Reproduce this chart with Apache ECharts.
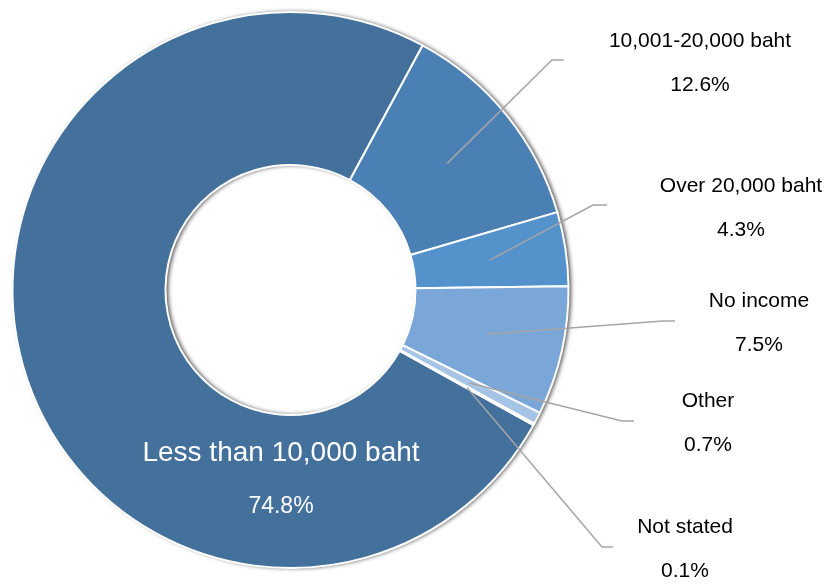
<!DOCTYPE html>
<html>
<head>
<meta charset="utf-8">
<script src="https://cdn.jsdelivr.net/npm/echarts@6/dist/echarts.min.js"></script>
<style>
  html, body { margin: 0; padding: 0; background: #fff; }
  #chart { width: 834px; height: 584px; }
</style>
</head>
<body>
<div id="chart"></div>
<script>
// Monthly income groups and their shares (%)
const categories = ['Less than 10,000 baht', '10,001-20,000 baht', 'Over 20,000 baht', 'No income', 'Other', 'Not stated'];
const shares = [74.8, 12.6, 4.3, 7.5, 0.7, 0.1];
const sliceColors = ['#43719C', '#4A80B4', '#5492CB', '#7BA7D8', '#A6C4E6', '#C3D6EE'];

// Ring geometry (px) and the angle where the first slice begins
const CX = 290.5, CY = 290, R_IN = 125, R_OUT = 278, START_ANGLE = 330.9;

// Where each two-line label sits, and the elbow + end of its leader line
const labelCenters = [[281, 480], [700, 63], [741, 208], [759, 323], [708, 423], [685, 549]];
const leaderBends = [null, [[552, 60], [564, 60]], [[593, 205], [607, 205]], [[663, 321], [675, 321]], [[622, 421], [634, 421]], [[602, 547], [613, 547]]];

const FONT = '"Liberation Sans", Arial, sans-serif';
const total = shares.reduce((a, b) => a + b, 0);

// Mid angle of slice i, in radians, counter-clockwise from 3 o'clock
function midAngle(i) {
  let before = 0;
  for (let k = 0; k < i; k++) before += shares[k];
  const deg = START_ANGLE - (before + shares[i] / 2) / total * 360;
  return deg * Math.PI / 180;
}

// Leader lines: from the middle of the ring at each slice's mid angle out to its label
const leaderLines = [];
categories.forEach((name, i) => {
  if (!leaderBends[i]) return;
  const a = midAngle(i);
  const rm = (R_IN + R_OUT) / 2;
  leaderLines.push({
    type: 'polyline',
    silent: true,
    z: 100,
    shape: { points: [[CX + rm * Math.cos(a), CY - rm * Math.sin(a)], leaderBends[i][0], leaderBends[i][1]] },
    style: { stroke: '#A5A5A5', lineWidth: 1.5, fill: null }
  });
});

const chart = echarts.init(document.getElementById('chart'), null, { renderer: 'canvas' });

const outerRich = {
  n: { fontSize: 21, lineHeight: 44, color: '#000', fontFamily: FONT },
  v: { fontSize: 21, lineHeight: 44, color: '#000', fontFamily: FONT }
};
const innerRich = {
  n: { fontSize: 28, lineHeight: 54, color: '#fff', fontFamily: FONT },
  v: { fontSize: 23, lineHeight: 54, color: '#fff', fontFamily: FONT }
};

chart.setOption({
  animation: false,
  backgroundColor: '#fff',
  graphic: leaderLines,
  series: [
    {
      // soft drop shadow under the whole ring
      type: 'pie',
      silent: true,
      center: [CX, CY],
      radius: [R_IN, R_OUT],
      label: { show: false },
      labelLine: { show: false },
      emphasis: { disabled: true },
      itemStyle: {
        color: '#fff',
        shadowBlur: 4,
        shadowColor: 'rgba(0,0,0,0.7)',
        shadowOffsetX: 2.5,
        shadowOffsetY: 0
      },
      data: [{ value: 1, name: '' }]
    },
    {
      type: 'pie',
      center: [CX, CY],
      radius: [R_IN, R_OUT],
      startAngle: START_ANGLE,
      clockwise: true,
      avoidLabelOverlap: false,
      emphasis: { disabled: true },
      itemStyle: { borderColor: '#fff', borderWidth: 2 },
      label: {
        show: true,
        position: 'outside',
        formatter: p => '{n|' + p.name + '}\n{v|' + p.value.toFixed(1) + '%}',
        rich: outerRich
      },
      labelLine: { show: false },
      labelLayout: function (p) {
        const c = labelCenters[p.dataIndex];
        return { x: c[0], y: c[1], align: 'center', verticalAlign: 'middle' };
      },
      data: categories.map((name, i) => {
        const item = { name: name, value: shares[i], itemStyle: { color: sliceColors[i] } };
        if (i === 0) {
          item.label = { position: 'inside', rich: innerRich };
        }
        return item;
      })
    }
  ]
});
</script>
</body>
</html>
